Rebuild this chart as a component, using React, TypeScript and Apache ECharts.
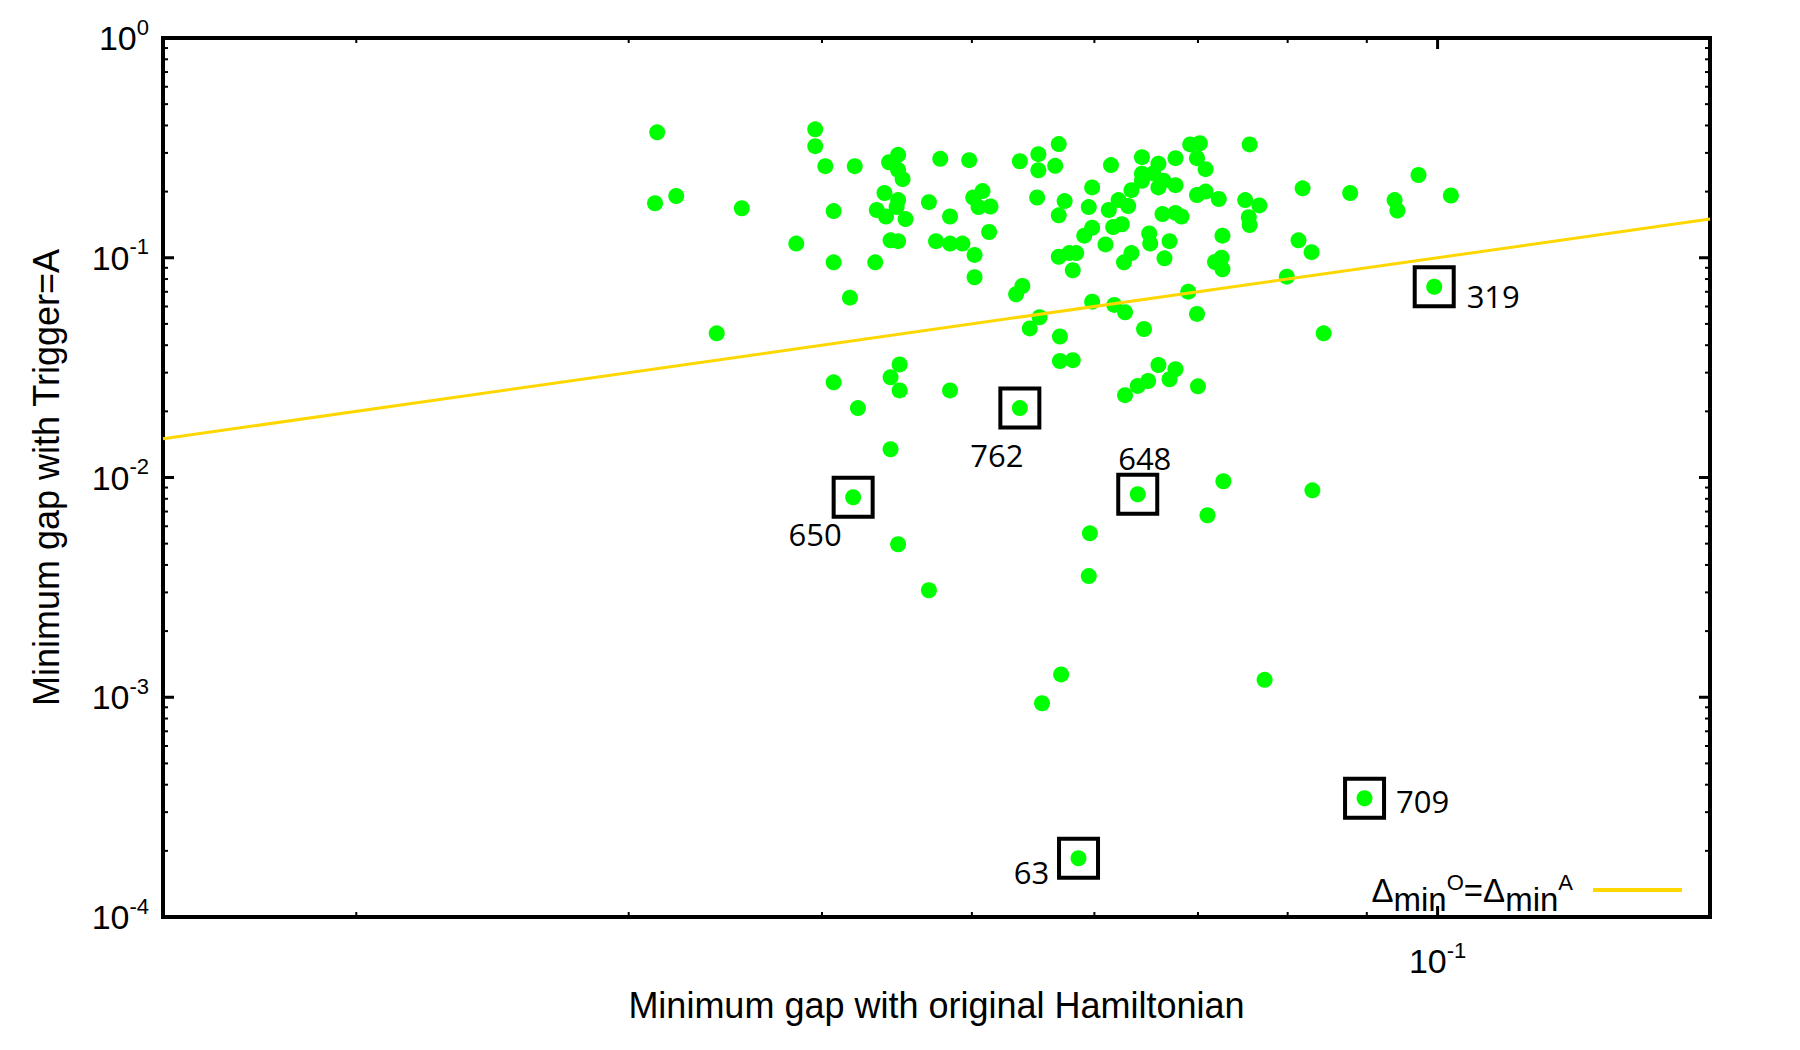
import React, { useEffect, useRef } from "react";
import * as echarts from "echarts";

// minimum gap with the original Hamiltonian (x) and with Trigger=A (y), one entry per instance
const originalGap = [
  0.0313, 0.0396, 0.0396, 0.0402, 0.042, 0.0442, 0.0448, 0.0448, 0.0451, 0.0477,
  0.0498, 0.0537, 0.0552, 0.0552, 0.0569, 0.0566, 0.0312, 0.0322, 0.0355, 0.0407,
  0.0439, 0.0448, 0.0434, 0.044, 0.0447, 0.0453, 0.0469, 0.0484, 0.0501, 0.0508,
  0.0505, 0.0514, 0.0551, 0.0513, 0.0385, 0.0443, 0.0448, 0.0474, 0.0484, 0.0493,
  0.0502, 0.0407, 0.0433, 0.0502, 0.0539, 0.0534, 0.0417, 0.0342, 0.0553, 0.0545,
  0.057, 0.057, 0.0449, 0.0443, 0.0449, 0.0407, 0.0484, 0.0422, 0.0574, 0.0569,
  0.0569, 0.0615, 0.0644, 0.066, 0.0677, 0.0692, 0.0702, 0.0699, 0.0708, 0.0756,
  0.0598, 0.0595, 0.0613, 0.0622, 0.0634, 0.0631, 0.0644, 0.0644, 0.0655, 0.0665,
  0.066, 0.0677, 0.0699, 0.0708, 0.0722, 0.0751, 0.0767, 0.0818, 0.0878, 0.0938,
  0.0942, 0.0972, 0.102, 0.0598, 0.0591, 0.0617, 0.0625, 0.061, 0.0664, 0.0677,
  0.0683, 0.0651, 0.0652, 0.0671, 0.0726, 0.0755, 0.0756, 0.0813, 0.0829, 0.0578,
  0.0584, 0.0581, 0.0634, 0.0627, 0.0666, 0.0718, 0.0725, 0.0726, 0.0799, 0.069,
  0.0598, 0.0618, 0.0628, 0.0699, 0.0646, 0.0844, 0.0581, 0.066, 0.0677, 0.0671,
  0.065, 0.064, 0.0628, 0.07, 0.0443, 0.0448, 0.0469, 0.0571, 0.0555, 0.0727,
  0.083, 0.071, 0.0596, 0.0595, 0.0773,
];
const triggerGap = [
  0.372, 0.384, 0.322, 0.261, 0.261, 0.272, 0.294, 0.251, 0.228, 0.282,
  0.278, 0.275, 0.296, 0.25, 0.329, 0.262, 0.177, 0.191, 0.168, 0.163,
  0.197, 0.183, 0.165, 0.154, 0.17, 0.15, 0.179, 0.154, 0.188, 0.201,
  0.17, 0.171, 0.188, 0.131, 0.116, 0.12, 0.119, 0.119, 0.116, 0.116,
  0.103, 0.0953, 0.0953, 0.0815, 0.0744, 0.0682, 0.0658, 0.0453, 0.0536, 0.0477,
  0.0438, 0.0339, 0.0327, 0.0286, 0.0249, 0.0271, 0.0249, 0.0207, 0.181, 0.156,
  0.101, 0.264, 0.287, 0.268, 0.284, 0.328, 0.332, 0.284, 0.253, 0.328,
  0.209, 0.17, 0.165, 0.183, 0.203, 0.172, 0.241, 0.224, 0.242, 0.224,
  0.209, 0.214, 0.193, 0.2, 0.185, 0.183, 0.173, 0.207, 0.197, 0.183,
  0.164, 0.238, 0.192, 0.137, 0.126, 0.138, 0.142, 0.115, 0.158, 0.16,
  0.154, 0.129, 0.116, 0.119, 0.126, 0.153, 0.141, 0.12, 0.106, 0.105,
  0.105, 0.0877, 0.105, 0.0953, 0.0994, 0.0956, 0.1, 0.0886, 0.082, 0.0701,
  0.0631, 0.061, 0.0565, 0.0555, 0.0474, 0.0453, 0.0342, 0.0325, 0.0311, 0.028,
  0.0275, 0.0261, 0.0237, 0.026, 0.01344, 0.00497, 0.00307, 0.00127, 0.000939, 0.00961,
  0.00874, 0.00673, 0.00557, 0.00356, 0.0012,
];

// instances picked out with a box and their number
const markedIds = ["319", "762", "648", "650", "709", "63"];
const markedOriginal = [0.0995, 0.0537, 0.064, 0.0419, 0.0897, 0.0586];
const markedTrigger = [0.0738, 0.0207, 0.00839, 0.00813, 0.000347, 0.000185];

// ends of the diagonal Δmin^O = Δmin^A
const diagonal = [0.015, 0.15];

const xRange = [0.015, 0.15];
const yRange = [1e-4, 1];
const xTickValues = [0.02, 0.03, 0.04, 0.05, 0.06, 0.07, 0.08, 0.09, 0.1];
const yDecades = [1e-4, 1e-3, 1e-2, 1e-1];
const yTickValues = [
  ...yDecades.flatMap((d) => [1, 2, 3, 4, 5, 6, 7, 8, 9].map((k) => k * d)),
  1,
];

const lineName = "Δmin^O=Δmin^A";

// where each number sits, relative to its point (px)
const labelOffset: Record<string, [number, number]> = {
  "319": [59, 9],
  "762": [-23, 47],
  "648": [7, -36],
  "650": [-38, 37],
  "709": [58, 3],
  "63": [-47, 14],
};

const FONT = "Liberation Sans";

const isPower = (v: number) => {
  const e = Math.log10(v);
  return Math.abs(e - Math.round(e)) < 1e-6;
};

const powerLabel = (v: number) => {
  if (!isPower(v)) return "";
  return `{b|10}{s|${Math.round(Math.log10(v))}}`;
};

const powerRich = {
  b: { fontSize: 34, fontFamily: FONT, color: "#000" },
  s: { fontSize: 22, fontFamily: FONT, color: "#000", padding: [0, 0, 22, 0] },
};

const App: React.FC = () => {
  const chartRef = useRef<HTMLDivElement>(null);

  useEffect(() => {
    document.body.style.margin = "0";
    if (!chartRef.current) return;
    const chart = echarts.init(chartRef.current, undefined, { renderer: "svg" });

    const points = originalGap
      .map((x, i) => [x, triggerGap[i]])
      .concat(markedOriginal.map((x, i) => [x, markedTrigger[i]]));
    const marked = markedIds.map((id, i) => ({
      name: id,
      value: [markedOriginal[i], markedTrigger[i]],
      label: { offset: labelOffset[id] },
    }));

    chart.setOption({
      animation: false,
      backgroundColor: "#fff",
      grid: {
        left: 163,
        right: 90,
        top: 38,
        bottom: 133,
        show: true,
        borderColor: "#000",
        borderWidth: 4,
      },
      legend: {
        data: [{ name: lineName, icon: "rect" }],
        right: 118,
        top: 871,
        padding: 0,
        align: "right",
        itemWidth: 89,
        itemHeight: 4,
        selectedMode: false,
        formatter: () => "{d|Δ}{m|min}{u|O}{d|=Δ}{m|min}{u|A}",
        textStyle: {
          padding: [0, 15, 0, 0],
          rich: {
            d: { fontSize: 33, fontFamily: FONT, color: "#000" },
            m: { fontSize: 33, fontFamily: FONT, color: "#000", padding: [19, 0, 0, 0] },
            u: { fontSize: 22, fontFamily: FONT, color: "#000", padding: [0, 0, 16, 0] },
          },
        },
      },
      xAxis: {
        type: "log",
        logBase: 10,
        min: xRange[0],
        max: xRange[1],
        name: "Minimum gap with original Hamiltonian",
        nameLocation: "middle",
        nameGap: 70,
        nameTextStyle: { fontSize: 36, fontFamily: FONT, color: "#000" },
        axisLine: { show: false },
        axisTick: { show: false },
        splitLine: { show: false },
        minorTick: { show: false },
        axisLabel: {
          margin: 22,
          formatter: powerLabel,
          rich: powerRich,
          fontFamily: FONT,
          color: "#000",
        },
      },
      yAxis: {
        type: "log",
        logBase: 10,
        min: yRange[0],
        max: yRange[1],
        name: "Minimum gap with Trigger=A",
        nameLocation: "middle",
        nameRotate: 90,
        nameGap: 99,
        nameTextStyle: { fontSize: 36, fontFamily: FONT, color: "#000" },
        axisLine: { show: false },
        axisTick: { show: false },
        splitLine: { show: false },
        minorTick: { show: false },
        axisLabel: {
          margin: 14,
          formatter: powerLabel,
          rich: powerRich,
          fontFamily: FONT,
          color: "#000",
        },
      },
      series: [
        {
          name: "instances",
          type: "scatter",
          data: points,
          symbol: "circle",
          symbolSize: 16,
          itemStyle: { color: "#00FF00", opacity: 1 },
          z: 2,
        },
        {
          name: lineName,
          type: "line",
          data: [
            [diagonal[0], diagonal[0]],
            [diagonal[1], diagonal[1]],
          ],
          symbol: "none",
          showSymbol: false,
          lineStyle: { color: "#FFD700", width: 3, opacity: 1 },
          itemStyle: { color: "#FFD700" },
          z: 3,
        },
        {
          name: "marked",
          type: "scatter",
          data: marked,
          symbol: "rect",
          symbolSize: 39,
          itemStyle: {
            color: "rgba(0,0,0,0)",
            borderColor: "#000",
            borderWidth: 4,
            opacity: 1,
          },
          label: {
            show: true,
            position: "inside",
            formatter: (p: any) => p.name,
            fontSize: 31,
            fontFamily: "Open Sans",
            color: "#000",
            align: "center",
            verticalAlign: "middle",
          },
          z: 4,
        },
        {
          // ticks on the bottom and top frame
          name: "xticks",
          type: "custom",
          silent: true,
          data: xTickValues.map((v) => [v, yRange[0]]),
          renderItem: (params: any, api: any) => {
            const v = api.value(0) as number;
            const px = api.coord([v, yRange[0]])[0];
            const cs = params.coordSys;
            const major = isPower(v);
            const len = major ? 11 : 5;
            const bottom = cs.y + cs.height;
            const style = { stroke: "#000", lineWidth: major ? 3 : 2 };
            return {
              type: "group",
              children: [
                { type: "line", shape: { x1: px, y1: bottom, x2: px, y2: bottom - len }, style },
                { type: "line", shape: { x1: px, y1: cs.y, x2: px, y2: cs.y + len }, style },
              ],
            };
          },
          z: 5,
        },
        {
          // ticks on the left and right frame
          name: "yticks",
          type: "custom",
          silent: true,
          data: yTickValues.map((v) => [xRange[0], v]),
          renderItem: (params: any, api: any) => {
            const v = api.value(1) as number;
            const py = api.coord([xRange[0], v])[1];
            const cs = params.coordSys;
            const major = isPower(v);
            const len = major ? 11 : 5;
            const right = cs.x + cs.width;
            const style = { stroke: "#000", lineWidth: major ? 3 : 2 };
            return {
              type: "group",
              children: [
                { type: "line", shape: { x1: cs.x, y1: py, x2: cs.x + len, y2: py }, style },
                { type: "line", shape: { x1: right, y1: py, x2: right - len, y2: py }, style },
              ],
            };
          },
          z: 5,
        },
      ],
    });

    return () => {
      chart.dispose();
    };
  }, []);

  return <div ref={chartRef} style={{ width: "1800px", height: "1050px" }}></div>;
};

export default App;
